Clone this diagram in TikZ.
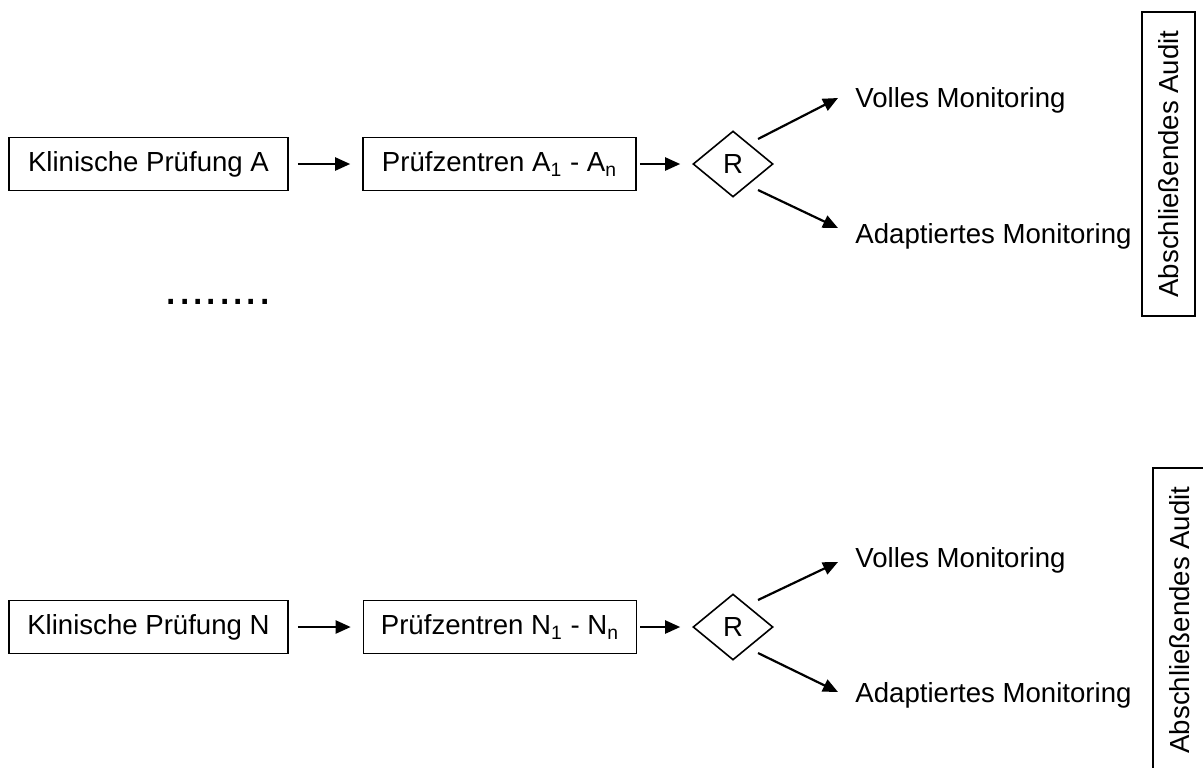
\documentclass[tikz,border=0pt]{standalone}
\usepackage{fontspec}
\setmainfont{Liberation Sans}
\usetikzlibrary{shapes.geometric,arrows.meta,calc}
\begin{document}
\begin{tikzpicture}[x=0.5pt,y=-0.5pt,
  every node/.style={font=\fontsize{13.8}{16}\selectfont},
  stepbox/.style={draw,line width=0.8pt,minimum height=26.5pt,inner sep=0pt},
  rbox/.style={draw,shape=diamond,line width=0.8pt,minimum width=40pt,minimum height=33pt,inner sep=0pt},
  auditbox/.style={draw,line width=0.8pt,rotate=90,minimum width=152pt,minimum height=26.5pt,inner sep=0pt},
  lbl/.style={anchor=west,inner sep=0pt},
  arr/.style={line width=1.1pt,-{Triangle[length=7.5pt,width=6.5pt]}}
]
\useasboundingbox (0,0) rectangle (1203,767);
\clip (0,0) rectangle (1203,767);
% top row
\node[stepbox,minimum width=139.5pt] (ka) at (148.5,164) {Klinische Prüfung A};
\node[stepbox,minimum width=136.5pt] (pa) at (499.5,164) {Prüfzentren A\textsubscript{1} - A\textsubscript{n}};
\node[rbox] (ra) at (733,164) {R};
\node[lbl] (va) at (855,100) {Volles Monitoring};
\node[lbl] (aa) at (855,236) {Adaptiertes Monitoring};
\node[auditbox] (ua) at (1168.5,164) {Abschließendes Audit};
\draw[arr] ($(ka.east)+(9,0)$) -- ($(pa.west)+(-12,0)$);
\draw[arr] ($(pa.east)+(3,0)$) -- ($(ra.west)+(-12,0)$);
\draw[arr] ($(ra.center)+(25,-25)$) -- ($(va.west)+(-17,-2)$);
\draw[arr] ($(ra.center)+(25,26)$) -- ($(aa.west)+(-17,-8)$);
% dots
\node[font=\fontsize{24}{28}\selectfont,inner sep=0pt] (dots) at (218,302) {........};
% bottom row
\node[stepbox,minimum width=139.5pt] (kn) at (148.5,627) {Klinische Prüfung N};
\node[stepbox,minimum width=136.5pt] (pn) at (500,627) {Prüfzentren N\textsubscript{1} - N\textsubscript{n}};
\node[rbox] (rn) at (733,627) {R};
\node[lbl] (vn) at (855,560) {Volles Monitoring};
\node[lbl] (an) at (855,695) {Adaptiertes Monitoring};
\node[auditbox] (un) at (1179.5,620) {Abschließendes Audit};
\draw[arr] ($(kn.east)+(9,0)$) -- ($(pn.west)+(-12,0)$);
\draw[arr] ($(pn.east)+(3,0)$) -- ($(rn.west)+(-12,0)$);
\draw[arr] ($(rn.center)+(25,-27)$) -- ($(vn.west)+(-17,2)$);
\draw[arr] ($(rn.center)+(25,26)$) -- ($(an.west)+(-17,-3)$);
\end{tikzpicture}
\end{document}
